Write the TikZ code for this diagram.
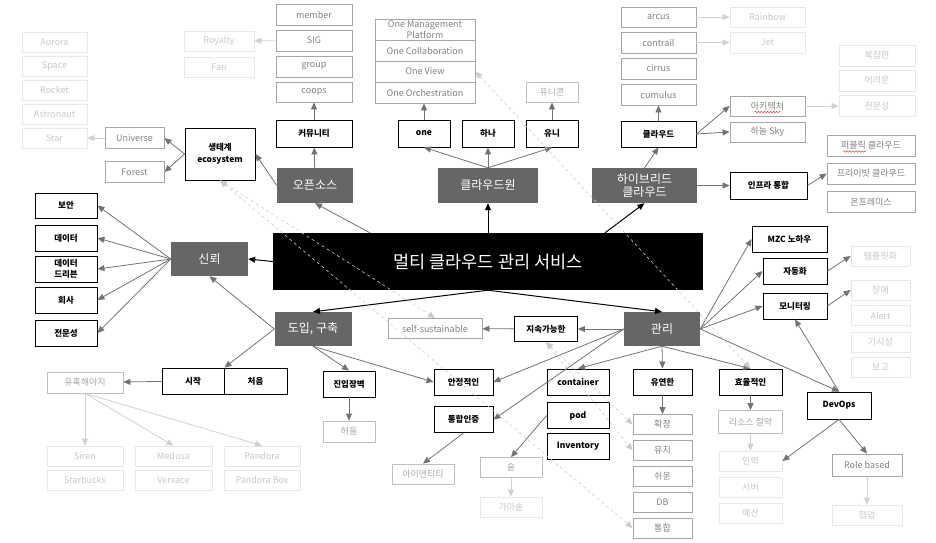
\documentclass[tikz,border=0pt]{standalone}
\usepackage{fontspec}
\setmainfont{Noto Sans CJK KR}
\usetikzlibrary{arrows.meta,decorations.pathmorphing}

\begin{document}
\begin{tikzpicture}[x=1pt,y=-1pt,
  every node/.style={inner sep=0pt,align=center},
  sz/.style n args={2}{minimum width=#1pt,minimum height=#2pt},
  topbox/.style={fill=black,text=white,font=\fontsize{17.5}{20}\selectfont},
  catbox/.style={fill=black!60,text=white,font=\fontsize{12}{14}\selectfont},
  keybox/.style={draw=black,line width=.9pt,fill=white,font=\bfseries\fontsize{8.5}{11}\selectfont},
  greybox/.style={draw=black!35,line width=.8pt,text=black!50,font=\fontsize{9}{11}\selectfont},
  softbox/.style={draw=black!25,line width=.8pt,text=black!35,font=\fontsize{9}{11}\selectfont},
  fadebox/.style={draw=black!9,line width=.8pt,text=black!22,font=\fontsize{9}{11}\selectfont},
  tip/.style={-{Triangle[length=7pt,width=6pt]}},
  main/.style={tip,line width=1pt,black},
  sub/.style={tip,line width=.8pt,black!55},
  faint/.style={tip,line width=.8pt,black!18},
  link/.style={{Triangle[length=7pt,width=6pt]}-{Triangle[length=7pt,width=6pt]},dashed,line width=.6pt,black!20},
  squiggle/.style={red!75,line width=.5pt,decorate,decoration={snake,amplitude=.7pt,segment length=3pt}}]
\useasboundingbox (0,0) rectangle (936,542);

\node[topbox,sz={430}{57}] (multi) at (488,261.5) {멀티 클라우드 관리 서비스};
\node[catbox,sz={76}{35}] (opensrc) at (315,185.5) {오픈소스};
\node[catbox,sz={100}{35}] (cloudone) at (488,185.5) {클라우드원};
\node[catbox,sz={105}{35},font=\fontsize{12}{13}\selectfont] (hybrid) at (644.5,185.5) {하이브리드\\클라우드};
\node[catbox,sz={77}{34}] (trust) at (209.5,259) {신뢰};
\node[catbox,sz={77}{34}] (intro) at (313,329) {도입, 구축};
\node[catbox,sz={76}{34}] (mgmt) at (662,329) {관리};

\node[fadebox,sz={65}{20}] (aurora) at (54.5,42) {Aurora};
\node[fadebox,sz={65}{20}] (space) at (54.5,66) {Space};
\node[fadebox,sz={65}{20}] (rocket) at (54.5,90) {Rocket};
\node[fadebox,sz={65}{20}] (astronaut) at (54.5,114) {Astronaut};
\node[fadebox,sz={65}{20}] (star) at (54.5,138) {Star};
\node[greybox,sz={59}{21}] (universe) at (134.5,138) {Universe};
\node[greybox,sz={59}{21}] (forest) at (134.5,172) {Forest};
\node[keybox,sz={70}{52},font=\bfseries\fontsize{8.5}{12}\selectfont] (eco) at (220,154) {생태계\\ecosystem};
\node[fadebox,sz={70}{20}] (royalty) at (219,41) {Royalty};
\node[fadebox,sz={70}{20}] (fan) at (219,67) {Fan};
\node[greybox,sz={76}{21}] (member) at (314,14.5) {member};
\node[greybox,sz={76}{21}] (sig) at (314,40.5) {SIG};
\node[greybox,sz={76}{21}] (group) at (314,66.5) {group};
\node[greybox,sz={76}{20}] (coops) at (314,92) {coops};
\node[keybox,sz={76}{27}] (community) at (314,133.5) {커뮤니티};

\node[greybox,sz={100}{21},font=\fontsize{9}{9.5}\selectfont] (oneplat) at (425,29.5) {One Management\\Platform};
\node[greybox,sz={100}{21}] (onecollab) at (425,50.5) {One Collaboration};
\node[greybox,sz={100}{21}] (oneview) at (425,71.5) {One View};
\node[greybox,sz={100}{21}] (oneorch) at (425,92.5) {One Orchestration};
\node[keybox,sz={52}{27}] (one) at (424,133.5) {one};
\node[keybox,sz={52}{27}] (hana) at (488,133.5) {하나};
\node[keybox,sz={52}{27}] (uni) at (552,133.5) {유니};
\node[softbox,sz={52}{20}] (unicorn) at (552,92) {유니콘};

\node[greybox,sz={75}{20}] (arcus) at (658.5,17) {arcus};
\node[greybox,sz={75}{21}] (contrail) at (658.5,42.5) {contrail};
\node[greybox,sz={75}{21}] (cirrus) at (658.5,68.5) {cirrus};
\node[greybox,sz={75}{21}] (cumulus) at (658.5,94.5) {cumulus};
\node[fadebox,sz={75}{20}] (rainbow) at (767.5,17) {Rainbow};
\node[fadebox,sz={75}{21}] (jet) at (767.5,42.5) {Jet};
\node[keybox,sz={75}{26}] (cloud) at (658.5,134) {클라우드};
\node[greybox,sz={75}{20}] (arch) at (767.5,106) {아키텍처};
\node[greybox,sz={75}{20}] (sky) at (767.5,132) {하늘 Sky};
\node[fadebox,sz={76}{21}] (complex) at (877,55.5) {복잡한};
\node[fadebox,sz={76}{21}] (hard) at (877,80.5) {어려운};
\node[fadebox,sz={76}{21}] (expert) at (877,106) {전문성};
\node[keybox,sz={77}{27}] (infra) at (768.5,185.5) {인프라 통합};
\node[greybox,sz={88}{21}] (public) at (871,145.5) {퍼블릭 클라우드};
\node[greybox,sz={88}{21}] (private) at (871,173.5) {프라이빗 클라우드};
\node[greybox,sz={88}{21}] (onprem) at (871,202) {온프레미스};

\node[keybox,sz={62}{25}] (sec) at (66,205.5) {보안};
\node[keybox,sz={62}{26}] (data) at (66,238) {데이터};
\node[keybox,sz={62}{26},font=\bfseries\fontsize{8.5}{10.5}\selectfont] (driven) at (66,269) {데이터\\드리븐};
\node[keybox,sz={62}{26}] (company) at (66,300) {회사};
\node[keybox,sz={62}{26}] (skill) at (66,333) {전문성};

\node[keybox,sz={62}{26}] (start) at (193,381) {시작};
\node[keybox,sz={63}{26}] (first) at (255.5,381) {처음};
\node[softbox,sz={76}{21}] (lure) at (85,382.5) {유혹해야지};
\node[fadebox,sz={76}{20}] (siren) at (85,456) {Siren};
\node[fadebox,sz={76}{20}] (starbucks) at (85,480) {Starbucks};
\node[fadebox,sz={77}{20}] (medusa) at (173.5,456) {Medusa};
\node[fadebox,sz={77}{20}] (versace) at (173.5,480) {Versace};
\node[fadebox,sz={76}{20}] (pandora) at (262,456) {Pandora};
\node[fadebox,sz={76}{20}] (pandorabox) at (262,480) {Pandora Box};
\node[keybox,sz={52}{26}] (barrier) at (349,384) {진입장벽};
\node[softbox,sz={52}{21}] (hurdle) at (349,431.5) {허들};
\node[keybox,sz={59}{26}] (stable) at (463.5,382) {안정적인};
\node[keybox,sz={59}{26}] (auth) at (463.5,419.5) {통합인증};
\node[softbox,sz={62}{20}] (identity) at (423,474) {아이덴티티};

\node[greybox,sz={94}{20}] (selfsus) at (435,328.5) {self-sustainable};
\node[keybox,sz={63}{25}] (sustain) at (546,329) {지속가능한};
\node[keybox,sz={62}{26}] (container) at (578,382) {container};
\node[keybox,sz={62}{26}] (pod) at (578,415.5) {pod};
\node[keybox,sz={62}{26}] (inventory) at (578,446) {Inventory};
\node[softbox,sz={62}{20}] (sul) at (511,467.5) {술};
\node[fadebox,sz={62}{20}] (gamasot) at (511,507) {가마솥};
\node[keybox,sz={59}{26}] (flex) at (662.5,382) {유연한};
\node[greybox,sz={59}{20}] (expand) at (662.5,424.5) {확장};
\node[greybox,sz={59}{20}] (keep) at (662.5,450.5) {유지};
\node[greybox,sz={59}{20}] (easy) at (662.5,476.5) {쉬운};
\node[greybox,sz={59}{20}] (db) at (662.5,502.5) {DB};
\node[greybox,sz={59}{20}] (merge) at (662.5,528) {통합};
\node[keybox,sz={63}{26}] (efficient) at (750.5,382) {효율적인};
\node[softbox,sz={64}{23}] (saving) at (750.5,422) {리소스 절약};
\node[fadebox,sz={63}{20}] (labor) at (750.5,461) {인력};
\node[fadebox,sz={63}{20}] (server) at (750.5,487) {서버};
\node[fadebox,sz={63}{20}] (budget) at (750.5,513) {예산};
\node[keybox,sz={64}{27}] (devops) at (839,405.5) {DevOps};
\node[greybox,sz={70}{22}] (role) at (867,465) {Role based};
\node[fadebox,sz={70}{20}] (collab) at (867,515) {협업};
\node[keybox,sz={75}{26}] (mzc) at (789.5,239) {MZC 노하우};
\node[keybox,sz={64}{26}] (auto) at (795,271) {자동화};
\node[keybox,sz={64}{26}] (monitor) at (795,306) {모니터링};
\node[fadebox,sz={59}{20}] (template) at (880.5,256) {템플릿화};
\node[fadebox,sz={59}{20}] (fault) at (880.5,290) {장애};
\node[fadebox,sz={59}{20}] (alert) at (880.5,315.5) {Alert};
\node[fadebox,sz={59}{20}] (visible) at (880.5,342) {가시성};
\node[fadebox,sz={59}{20}] (report) at (880.5,367.5) {보고};

\draw[squiggle] ([xshift=-13pt,yshift=-6pt]arch.center) -- ++(26,0);
\draw[squiggle] ([xshift=-28pt,yshift=-6pt]public.center) -- ++(23,0);

\draw[main] (multi) -- (cloudone);
\draw[main] ([xshift=117pt]multi.north) -- (hybrid.south);
\draw[main] (multi.west) -- (trust.east);
\draw[main] (multi.south) -- (intro.north);
\draw[main] (multi.south) -- (mgmt.north);
\draw[sub] ([xshift=-118pt]multi.north) -- (opensrc.south);

\draw[sub] (opensrc) -- (community);
\draw[sub] (community) -- (coops);
\draw[sub] (opensrc.west) -- (eco.east);
\draw[sub] (eco.west) -- (universe.east);
\draw[sub] (eco.west) -- (forest.east);
\draw[faint] (universe) -- (star);
\draw[faint] (sig) -- (royalty);

\draw[sub] (cloudone.north) -- (one.south);
\draw[sub] (cloudone.north) -- (hana.south);
\draw[sub] (cloudone.north) -- (uni.south);
\draw[sub] (one.north) -- (one.north |- oneorch.south);
\draw[sub] (uni) -- (unicorn);

\draw[sub] (hybrid.north) -- (cloud.south);
\draw[sub] (hybrid) -- (infra);
\draw[sub] (cloud) -- (cumulus);
\draw[sub] (cloud.east) -- (arch.west);
\draw[sub] (cloud.east) -- (sky.west);
\draw[faint] (arcus) -- (rainbow);
\draw[faint] (contrail) -- (jet);
\draw[faint] (arch) -- (expert);
\draw[sub] (infra.east) -- (private.west);

\draw[sub] (trust.west) -- (sec.east);
\draw[sub] (trust.west) -- (data.east);
\draw[sub] (trust.west) -- (driven.east);
\draw[sub] (trust.west) -- (company.east);
\draw[sub] (trust.west) -- (skill.east);

\draw[sub] (intro.west) -- (trust.south);
\draw[sub] (intro.west) -- (start.north east);
\draw[sub] (start) -- (lure);
\draw[faint] (lure.south) -- (siren.north);
\draw[faint] (lure.south) -- (medusa.north);
\draw[faint] (lure.south) -- (pandora.north);
\draw[sub] (intro.south) -- (barrier.north);
\draw[sub] (intro.south) -- (stable.west);
\draw[sub] (barrier) -- (hurdle);
\draw[sub] (auth.south) -- (identity.north);

\draw[sub] (mgmt) -- (sustain);
\draw[sub] (sustain) -- (selfsus);
\draw[sub] (mgmt.west) -- (stable.east);
\draw[sub] (mgmt.west) -- (auth.east);
\draw[sub] (mgmt.south) -- (container.north);
\draw[sub] (mgmt.south) -- (flex.north);
\draw[sub] (mgmt.south) -- (efficient.north);
\draw[sub] (mgmt.east) -- (devops.north);
\draw[sub] (mgmt.east) -- (mzc.west);
\draw[sub] (mgmt.east) -- (auto.west);
\draw[sub] (mgmt.east) -- (monitor.west);
\draw[sub] (pod.west) -- (sul.north);
\draw[faint] (sul) -- (gamasot);
\draw[sub] (flex) -- (expand);
\draw[sub] (efficient) -- (saving);
\draw[faint] (saving) -- (labor);
\draw[sub] (devops.south) -- (labor.east);
\draw[sub] (devops.south) -- (role.north);
\draw[faint] (role) -- (collab);
\draw[sub] (devops.north) -- (monitor.south);
\draw[sub] (auto.east) -- (template.west);
\draw[sub] (monitor.east) -- (fault.west);

\draw[link] (eco.south) -- (selfsus.north);
\draw[link] (eco.south) -- (merge.west);
\draw[link] (sustain.south) -- (expand.west);
\draw[link] (sustain.south) -- (keep.west);
\draw[link] (oneview.east) -- (efficient.north);
\end{tikzpicture}
\end{document}
